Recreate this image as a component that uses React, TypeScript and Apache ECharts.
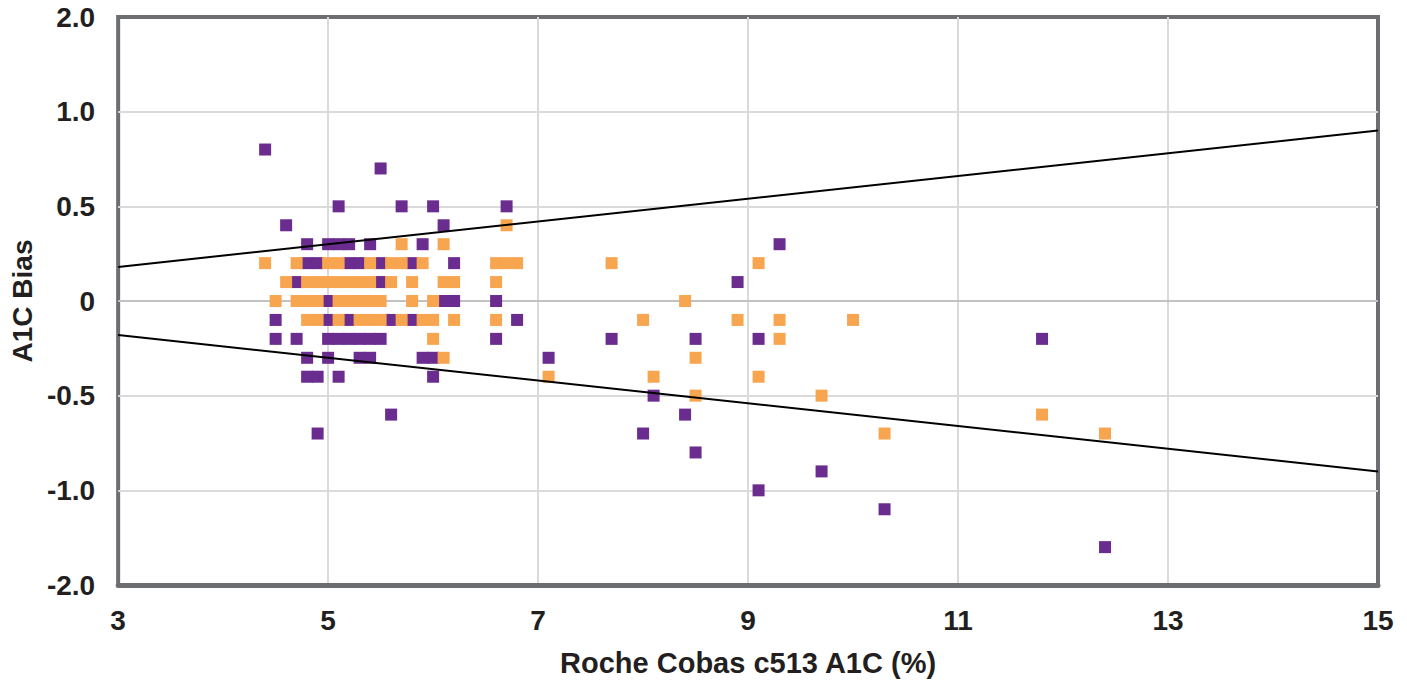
import React, { useEffect, useRef } from 'react';
import * as echarts from 'echarts';

const xTicks = [3, 5, 7, 9, 11, 13, 15];
const yTickValues = [-1.5, -1, -0.5, 0, 0.5, 1, 1.5];
const yTickLabels = ['-2.0', '-1.0', '-0.5', '0', '0.5', '1.0', '2.0'];

const purplePoints: [number, number][] = [
  [4.4, 0.8], [5.5, 0.7],
  [5.1, 0.5], [5.7, 0.5], [6.0, 0.5], [6.7, 0.5],
  [4.6, 0.4], [6.1, 0.4],
  [4.8, 0.3], [5.0, 0.3], [5.1, 0.3], [5.2, 0.3], [5.4, 0.3], [5.9, 0.3], [9.3, 0.3],
  [4.8, 0.2], [4.9, 0.2], [5.2, 0.2], [5.3, 0.2], [5.5, 0.2], [5.8, 0.2], [6.2, 0.2],
  [4.7, 0.1], [5.5, 0.1], [8.9, 0.1],
  [5.0, 0], [6.1, 0], [6.2, 0], [6.6, 0],
  [4.5, -0.1], [5.0, -0.1], [5.2, -0.1], [5.6, -0.1], [5.8, -0.1], [6.8, -0.1],
  [4.5, -0.2], [4.7, -0.2], [5.0, -0.2], [5.1, -0.2], [5.2, -0.2], [5.3, -0.2], [5.4, -0.2], [5.5, -0.2],
  [6.6, -0.2], [7.7, -0.2], [8.5, -0.2], [9.1, -0.2], [11.8, -0.2],
  [4.8, -0.3], [5.0, -0.3], [5.3, -0.3], [5.4, -0.3], [5.9, -0.3], [6.0, -0.3], [7.1, -0.3],
  [4.8, -0.4], [4.9, -0.4], [5.1, -0.4], [6.0, -0.4],
  [8.1, -0.5],
  [5.6, -0.6], [8.4, -0.6],
  [4.9, -0.7], [8.0, -0.7],
  [8.5, -0.8],
  [9.7, -0.9],
  [9.1, -1.0],
  [10.3, -1.1],
  [12.4, -1.3],
];

const orangePoints: [number, number][] = [
  [6.7, 0.4],
  [5.7, 0.3], [6.1, 0.3],
  [4.4, 0.2], [4.7, 0.2], [5.0, 0.2], [5.1, 0.2], [5.4, 0.2], [5.6, 0.2], [5.7, 0.2], [5.9, 0.2],
  [6.6, 0.2], [6.7, 0.2], [6.8, 0.2], [7.7, 0.2], [9.1, 0.2],
  [4.6, 0.1], [4.8, 0.1], [4.9, 0.1], [5.0, 0.1], [5.1, 0.1], [5.2, 0.1], [5.3, 0.1], [5.4, 0.1],
  [5.6, 0.1], [5.8, 0.1], [6.1, 0.1], [6.2, 0.1], [6.6, 0.1],
  [4.5, 0], [4.7, 0], [4.8, 0], [4.9, 0], [5.1, 0], [5.2, 0], [5.3, 0], [5.4, 0], [5.5, 0],
  [5.8, 0], [6.0, 0], [8.4, 0],
  [4.8, -0.1], [4.9, -0.1], [5.1, -0.1], [5.3, -0.1], [5.4, -0.1], [5.5, -0.1], [5.7, -0.1],
  [5.9, -0.1], [6.0, -0.1], [6.2, -0.1], [6.6, -0.1], [8.0, -0.1], [8.9, -0.1], [9.3, -0.1], [10.0, -0.1],
  [6.0, -0.2], [9.3, -0.2],
  [6.1, -0.3], [8.5, -0.3],
  [7.1, -0.4], [8.1, -0.4], [9.1, -0.4],
  [8.5, -0.5], [9.7, -0.5],
  [11.8, -0.6],
  [10.3, -0.7], [12.4, -0.7],
];

const limitX = [3, 15];
const upperLimit = [0.18, 0.9];
const lowerLimit = [-0.18, -0.9];
const zeroLine = [0, 0];

const FONT = '"Liberation Sans", Arial, Helvetica, sans-serif';
const TEXT = '#231f20';

export default function App() {
  const ref = useRef<HTMLDivElement>(null);

  useEffect(() => {
    const chart = echarts.init(ref.current as HTMLDivElement, null, { renderer: 'svg' });
    chart.setOption({
      animation: false,
      backgroundColor: '#ffffff',
      grid: {
        left: 116,
        right: 29,
        top: 17,
        bottom: 97,
        show: true,
        borderColor: '#6d6e71',
        borderWidth: 4,
        backgroundColor: 'transparent',
      },
      xAxis: {
        type: 'value',
        min: 3,
        max: 15,
        name: 'Roche Cobas c513 A1C (%)',
        nameLocation: 'middle',
        nameGap: 63,
        nameTextStyle: { fontFamily: FONT, fontWeight: 'bold', fontSize: 29, color: TEXT },
        axisLine: { show: true, onZero: false, lineStyle: { color: '#6d6e71', width: 5 } },
        axisTick: { show: false, customValues: xTicks },
        axisLabel: {
          customValues: xTicks,
          margin: 21,
          fontFamily: FONT,
          fontWeight: 'bold',
          fontSize: 28,
          color: TEXT,
        },
        splitLine: {
          show: true,
          showMinLine: false,
          showMaxLine: false,
          lineStyle: { color: '#dadada', width: 2 },
        },
      },
      yAxis: {
        type: 'value',
        min: -1.5,
        max: 1.5,
        interval: 0.5,
        name: 'A1C Bias',
        nameLocation: 'middle',
        nameGap: 76,
        nameTextStyle: { fontFamily: FONT, fontWeight: 'bold', fontSize: 28, color: TEXT },
        axisLine: { show: false },
        axisTick: { show: false },
        axisLabel: {
          margin: 23,
          fontFamily: FONT,
          fontWeight: 'bold',
          fontSize: 28,
          color: TEXT,
          formatter: (v: number) => {
            const i = yTickValues.findIndex((t) => Math.abs(t - v) < 1e-9);
            return i >= 0 ? yTickLabels[i] : '';
          },
        },
        splitLine: {
          show: true,
          showMinLine: false,
          showMaxLine: false,
          lineStyle: { color: '#dadada', width: 2 },
        },
      },
      series: [
        {
          type: 'line',
          data: limitX.map((x, i) => [x, zeroLine[i]]),
          symbol: 'none',
          silent: true,
          z: 1,
          lineStyle: { color: '#c2c2c2', width: 2 },
        },
        {
          type: 'scatter',
          data: purplePoints,
          symbol: 'rect',
          symbolSize: 12,
          z: 2,
          itemStyle: { color: '#6a2c8f', opacity: 1 },
        },
        {
          type: 'scatter',
          data: orangePoints,
          symbol: 'rect',
          symbolSize: 12,
          z: 2,
          itemStyle: { color: '#f8a550', opacity: 1 },
        },
        {
          type: 'line',
          data: limitX.map((x, i) => [x, upperLimit[i]]),
          symbol: 'none',
          silent: true,
          z: 3,
          lineStyle: { color: '#000000', width: 2 },
        },
        {
          type: 'line',
          data: limitX.map((x, i) => [x, lowerLimit[i]]),
          symbol: 'none',
          silent: true,
          z: 3,
          lineStyle: { color: '#000000', width: 2 },
        },
      ],
    });
    return () => chart.dispose();
  }, []);

  return (
    <div
      ref={ref}
      style={{ position: 'fixed', left: 0, top: 0, width: 1407, height: 682, background: '#fff' }}
    />
  );
}
